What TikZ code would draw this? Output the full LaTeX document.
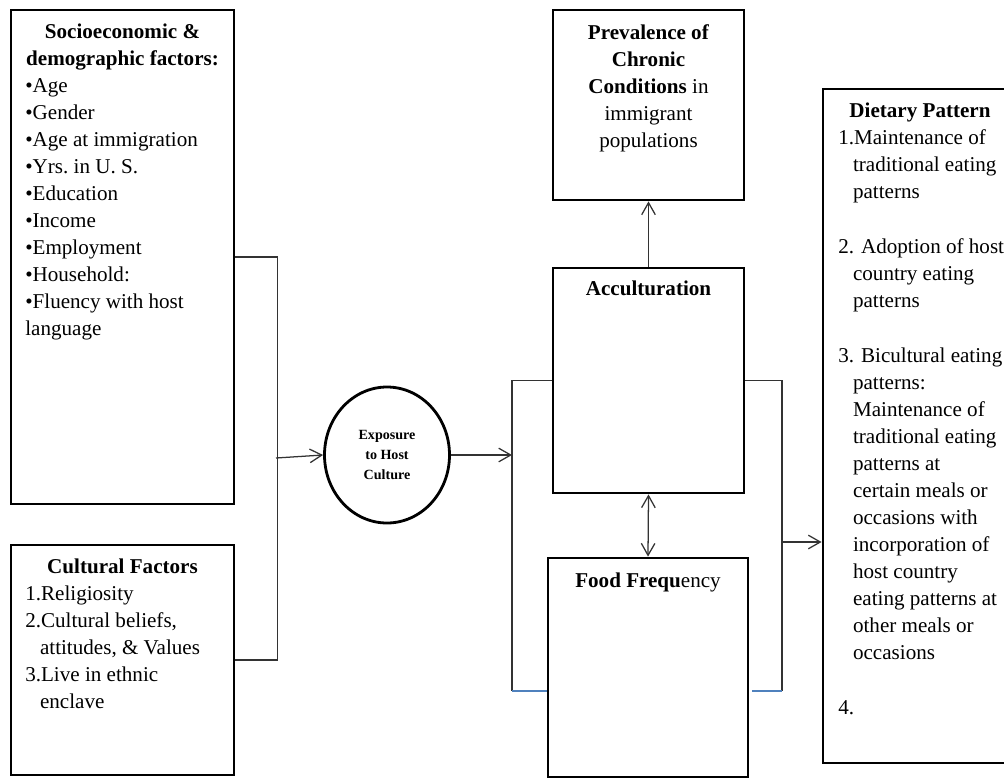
\documentclass[tikz,border=0pt]{standalone}
\usepackage{fontspec}
\setmainfont{Liberation Serif}
\usetikzlibrary{arrows.meta,positioning,shapes.geometric}
\definecolor{linkblue}{RGB}{79,129,189}
\newcommand{\hind}{\hspace*{10.5pt}}

\begin{document}
\begin{tikzpicture}[x=0.25mm, y=-0.25mm,
    box/.style={draw, line width=2pt, inner sep=0pt},
    txt/.style={inner sep=0pt, font=\fontsize{15}{19.2}\selectfont},
    link/.style={draw=black!80, line width=0.9pt},
    arr/.style={link, -{Straight Barb[length=3mm, width=3.4mm]}}]
    \useasboundingbox (0,0) rectangle (1004,778);
    \clip (0,0) rectangle (1004,778);

    % left column
    \node[box, minimum width=55.75mm, minimum height=123.5mm] (socio) at (122.5,257) {};
    \node[txt, anchor=north, align=center, font=\fontsize{15}{19.2}\selectfont\bfseries] (socioT) at (122.5,24) {Socioeconomic \&\\demographic factors:};
    \node[txt, anchor=north west, align=left] (socioL) at (25,78) {\textbullet Age\\\textbullet Gender\\\textbullet Age at immigration\\\textbullet Yrs.\ in U. S.\\\textbullet Education\\\textbullet Income\\\textbullet Employment\\\textbullet Household:\\\textbullet Fluency with host\\language};

    \node[box, minimum width=55.75mm, minimum height=57.5mm] (cult) at (122.5,660) {};
    \node[txt, anchor=north, font=\fontsize{15}{19.2}\selectfont\bfseries] (cultT) at (122.5,559) {Cultural Factors};
    \node[txt, anchor=north west, align=left] (cultL) at (25,586) {1.Religiosity\\2.Cultural beliefs,\\\hind attitudes, \& Values\\3.Live in ethnic\\\hind enclave};

    % exposure
    \node[ellipse, draw, line width=2pt, inner sep=0pt, minimum width=31.25mm, minimum height=34mm, align=center, font=\fontsize{10}{14.2}\selectfont\bfseries] (expo) at (387,455) {Exposure\\to Host\\Culture};

    % middle column
    \node[box, minimum width=47.75mm, minimum height=47.5mm] (prev) at (648.5,105) {};
    \node[txt, anchor=north, align=center] (prevT) at (648.5,24) {\textbf{Prevalence of}\\\textbf{Chronic}\\\textbf{Conditions} in\\immigrant\\populations};

    \node[box, minimum width=47.75mm, minimum height=56.25mm] (accult) at (648.5,380.5) {};
    \node[txt, anchor=north, font=\fontsize{15}{19.2}\selectfont\bfseries] (accultT) at (648.5,281) {Acculturation};

    \node[box, minimum width=50mm, minimum height=54.75mm] (food) at (648,667.5) {};
    \node[txt, anchor=north] (foodT) at (648,573) {\textbf{Food Frequ}ency};

    % right column
    \node[box, minimum width=48.5mm, minimum height=168.5mm] (diet) at (920,426) {};
    \node[txt, anchor=north, font=\fontsize{15}{19.2}\selectfont\bfseries] (dietT) at (920,103) {Dietary Pattern};
    \node[txt, anchor=north west, align=left] (dietL) at (838,129) {1.Maintenance of\\\hind traditional eating\\\hind patterns\\[20pt]
      2. Adoption of host\\\hind country eating\\\hind patterns\\[20pt]
      3. Bicultural eating\\\hind patterns:\\\hind Maintenance of\\\hind traditional eating\\\hind patterns at\\\hind certain meals or\\\hind occasions with\\\hind incorporation of\\\hind host country\\\hind eating patterns at\\\hind other meals or\\\hind occasions\\[20pt]
      4.};

    % connectors
    \draw[link] (socio.east) -- ++(42,0) coordinate (sj) |- (cult.east);
    \coordinate (sm) at (276,458);
    \draw[arr] (sm) -- (expo.west);

    \coordinate (al) at (512,691);
    \draw[link] (accult.west) -- (accult.west -| al) -- (al);
    \draw[link, draw=linkblue] (al) -- (al -| food.west);
    \draw[arr] (expo.east) -- (expo.east -| al);

    \coordinate (ar) at (782,691);
    \draw[link] (accult.east) -- (accult.east -| ar) -- (ar);
    \draw[link, draw=linkblue] (ar) -- ++(-30,0);
    \coordinate (dj) at (782,542);
    \draw[arr] (dj) -- (dj -| diet.west);

    \draw[arr] (accult.north) -- (prev.south);
    \draw[link, {Straight Barb[length=3mm, width=3.4mm]}-{Straight Barb[length=3mm, width=3.4mm]}] (accult.south) -- (food.north);
\end{tikzpicture}
\end{document}
